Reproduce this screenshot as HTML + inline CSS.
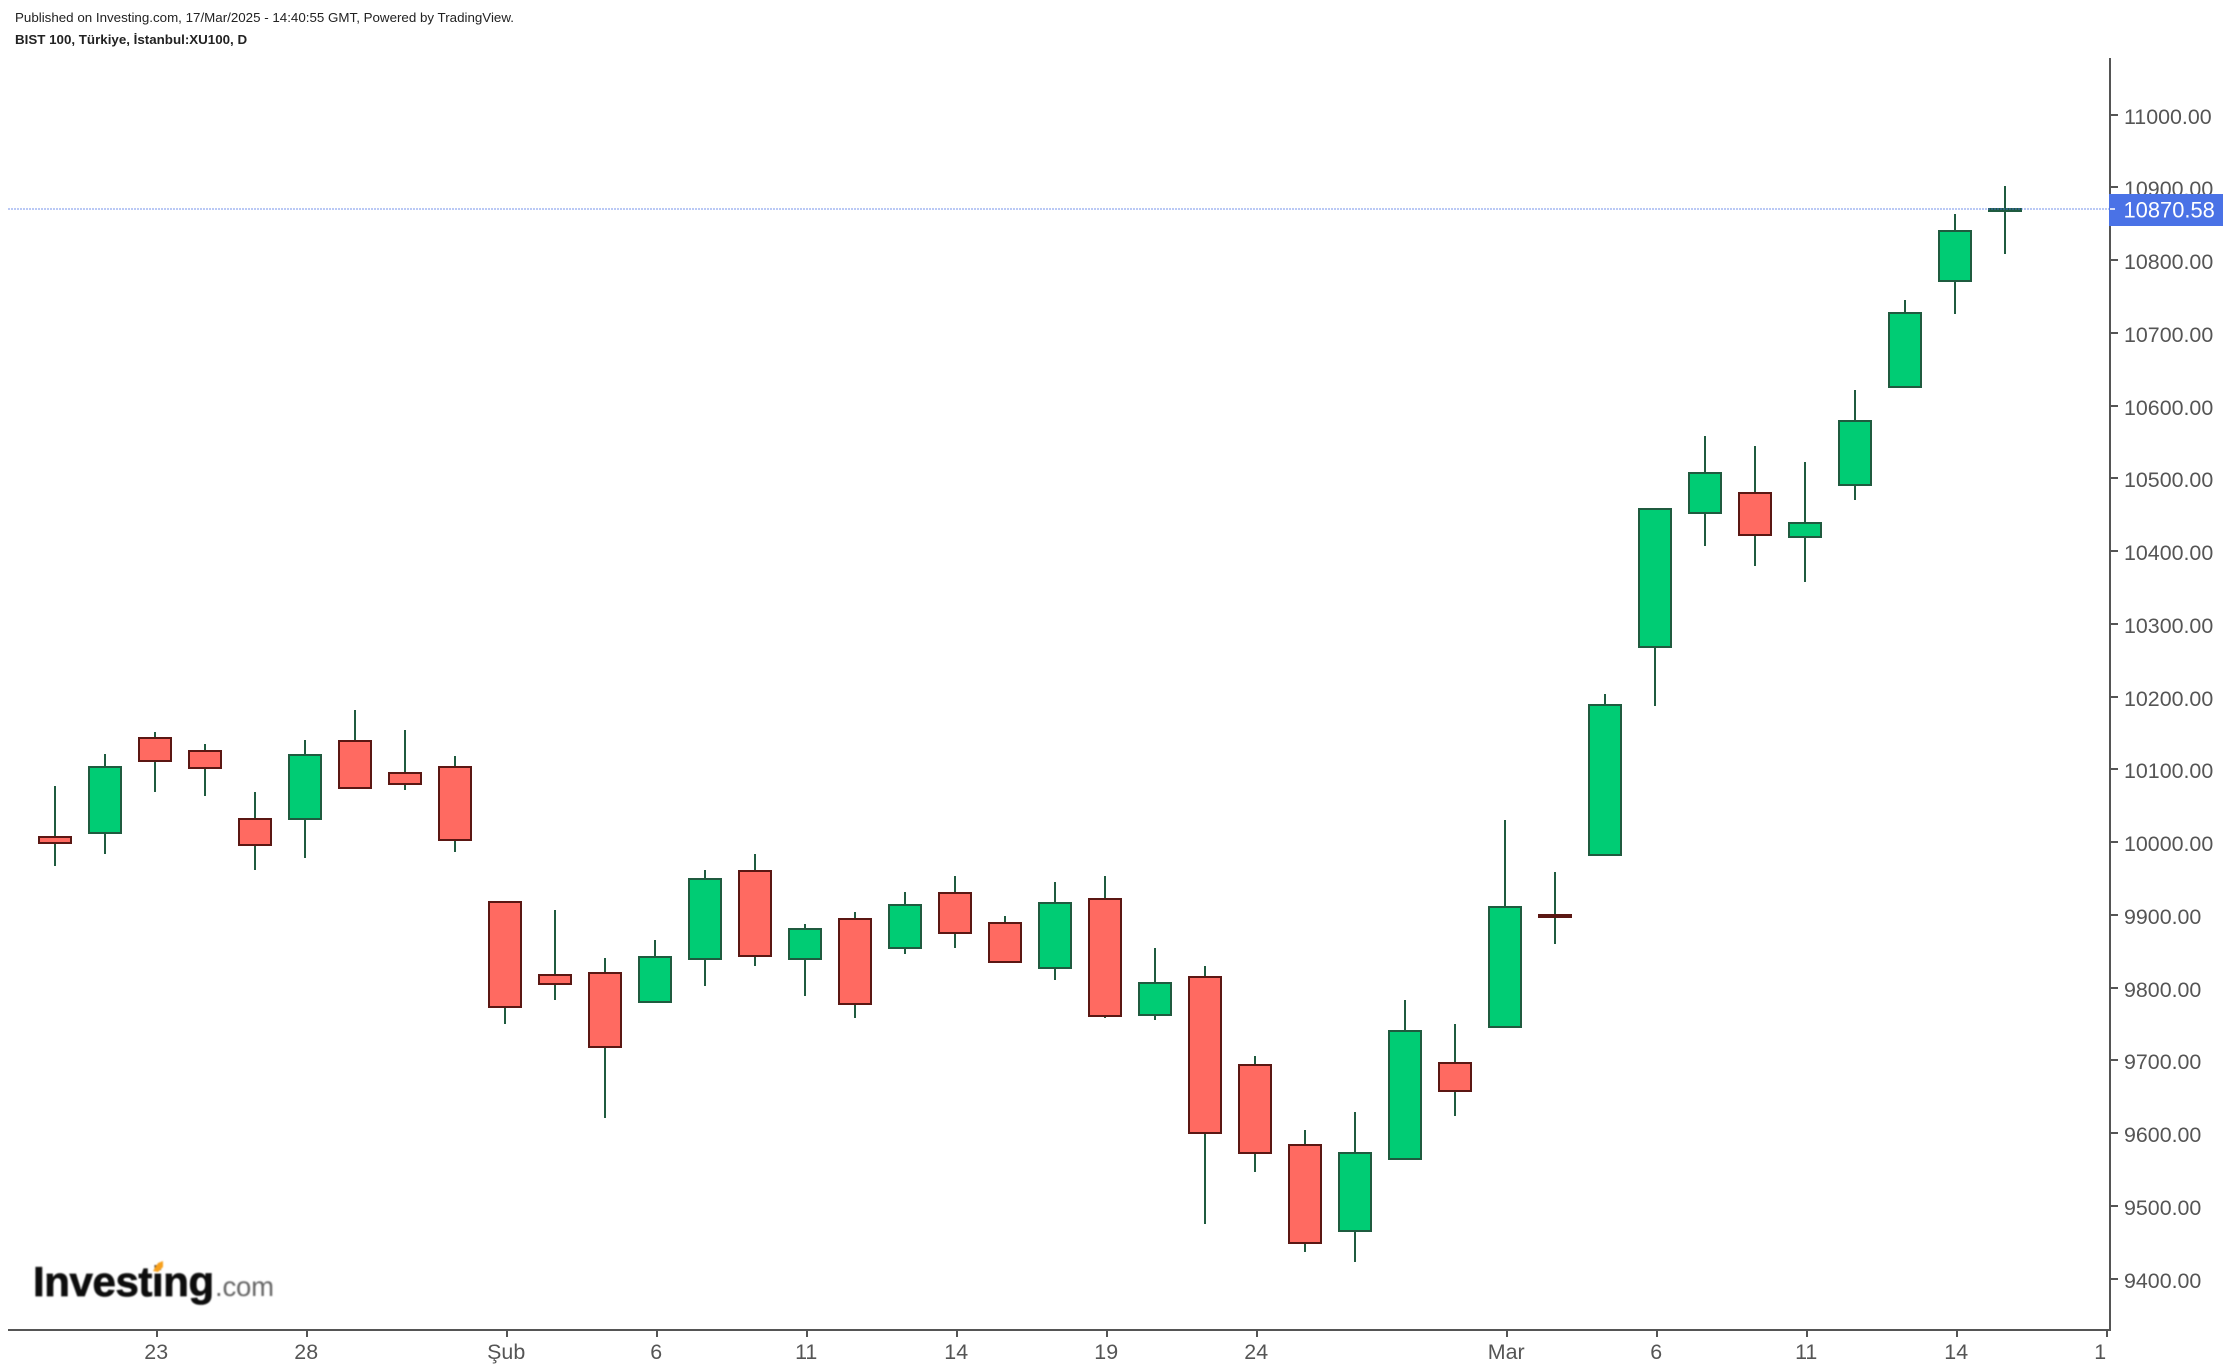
<!DOCTYPE html>
<html lang="tr">
<head>
<meta charset="utf-8">
<title>BIST 100 XU100 Daily Chart</title>
<style>
  html, body { margin: 0; padding: 0; background: #fff; }
  body { width: 2230px; height: 1372px; overflow: hidden; position: relative; }
  svg { position: absolute; left: 0; top: 0; display: block; }
  text { font-family: "Liberation Sans", Arial, sans-serif; }
</style>
</head>
<body>
<svg id="chart" xmlns="http://www.w3.org/2000/svg" width="2230" height="1372" viewBox="0 0 2230 1372">
  <defs>
    <clipPath id="x-label-clip"><rect x="0" y="1331" width="2107" height="41"/></clipPath>
    <filter id="logo-blur" x="-5%" y="-5%" width="110%" height="110%"><feGaussianBlur stdDeviation="0.7"/></filter>
  </defs>
  <text x="15" y="22" font-size="13.35" fill="#222">Published on Investing.com, 17/Mar/2025 - 14:40:55 GMT, Powered by TradingView.</text>
  <text x="15" y="44" font-size="13.35" font-weight="700" fill="#222">BIST 100, Türkiye, İstanbul:XU100, D</text>
  <g id="marks"></g>
  <g id="axes"></g>
  <g filter="url(#logo-blur)">
    <text x="33" y="1296" font-size="42" font-weight="700" letter-spacing="-0.4" fill="#0b0b0b" stroke="#0b0b0b" stroke-width="0.7">Investing</text>
    <text x="215" y="1296" font-size="27.5" letter-spacing="-0.2" fill="#666">.com</text>
    <path d="M153 1271 L158 1263 L163 1261 L163 1267 L158 1272 Z" fill="#f7a01c"/>
  </g>
</svg>
<script>
const opens = [10006.2,10013.6,10141.4,10124.4,10030.9,10032.9,10138.1,10094.2,10102.4,9916,9816.5,9819.2,9782.1,9840.4,9959.4,9840.4,9893.5,9856.4,9929.2,9888,9828.9,9921,9763.2,9813.8,9692.8,9582.8,9466.5,9565.5,9695.5,9747,9899.7,9983.4,10269.3,10453.5,10479,10420.5,10492,10626.7,10772.4,10867.6];
const highs = [10077.3,10121.2,10151.5,10135,10069,10140.5,10181.7,10154.2,10118.5,9916,9906.8,9840.8,9865.6,9961.8,9983.8,9887.6,9904,9931.5,9953.5,9898.5,9945.3,9953.5,9854.6,9829.8,9706.1,9604.4,9629.1,9783.1,9750.1,10030.5,9959,10203.7,10457,10558.4,10544.6,10522.6,10621.6,10745.3,10863.5,10902];
const lows = [9967.7,9984.2,10069.4,10063.9,9962.2,9978.7,10076.3,10072.2,9987,9750.5,9783.5,9621.3,9782.1,9802.8,9830.2,9789,9758.8,9846.7,9855,9837.1,9811,9758.8,9756,9475.6,9547.1,9437.1,9423.4,9565.5,9624,9747,9860.1,9983.4,10187.6,10407.6,10380.1,10358.1,10470.8,10626.7,10726.5,10808.9];
const closes = [9999.9,10102.4,10112.6,10103.8,9997.1,10118.9,10076.3,10081.8,10004.8,9774.4,9806.9,9719.5,9841.2,9948.5,9845.4,9879.7,9779.4,9912.7,9876.1,9837.1,9915.5,9762.9,9805.5,9601.2,9573.7,9450,9571.8,9739.5,9659,9910,9897.4,10187.6,10457,10506.5,10423.2,10437.8,10578,10726.5,10839.2,10870.58];
const xTickLabels = ["23","28","Şub","6","11","14","19","24","Mar","6","11","14","17"];
const xTickIndexes = [2,5,9,12,15,18,21,24,29,32,35,38,41];
const yTickValues = [9400,9500,9600,9700,9800,9900,10000,10100,10200,10300,10400,10500,10600,10700,10800,10900,11000];

const SVG_NS = "http://www.w3.org/2000/svg";
const AXIS_COLOR = "#555555";
const LABEL_COLOR = "#555555";
const WICK_COLOR = "#1f5b3f";
const UP_FILL = "#00cc74";
const UP_BORDER = "#1f5b3f";
const DOWN_FILL = "#ff6a61";
const DOWN_BORDER = "#5b1713";
const PRICE_BLUE = "#4a72e6";

function xScale(i) { return 55 + 50 * i; }
function yScale(v) { return 114.7 + (11000 - v) * 0.7275; }
function make(tag, attrs, parent) {
  const el = document.createElementNS(SVG_NS, tag);
  for (const k in attrs) el.setAttribute(k, attrs[k]);
  parent.appendChild(el);
  return el;
}

const marks = document.getElementById("marks");
const axes = document.getElementById("axes");

opens.forEach(function (open, i) {
  const close = closes[i];
  const up = close >= open;
  const cx = xScale(i);
  const wick = make("rect", {
    x: cx - 1,
    y: Math.round(yScale(highs[i])),
    width: 2,
    height: Math.max(1, Math.round(yScale(lows[i])) - Math.round(yScale(highs[i]))),
    fill: WICK_COLOR,
    "shape-rendering": "crispEdges"
  }, marks);
  
  
  const rawTop = Math.round(yScale(Math.max(open, close)));
  const rawBot = Math.round(yScale(Math.min(open, close)));
  const pad = rawBot - rawTop > 3 ? 1 : 0;
  const topY = rawTop - pad;
  const botY = rawBot + pad;
  const body = make("rect", {
    x: cx - 16,
    y: topY,
    width: 32,
    height: Math.max(1, botY - topY),
    fill: up ? UP_FILL : DOWN_FILL,
    stroke: up ? UP_BORDER : DOWN_BORDER,
    "stroke-width": 2,
    "shape-rendering": "crispEdges"
  }, marks);
  
  
});

const yAxisLine = make("rect", { x: 2109, y: 58, width: 2, height: 1273, fill: AXIS_COLOR }, axes);


const xAxisLine = make("rect", { x: 8, y: 1329, width: 2103, height: 2, fill: AXIS_COLOR }, axes);



yTickValues.forEach(function (v) {
  const y = Math.round(yScale(v));
  const tick = make("rect", { x: 2111, y: y - 1, width: 7, height: 2, fill: AXIS_COLOR }, axes);
  
  
  const label = make("text", { x: 2124, y: y + 9, "font-size": 21.4, fill: LABEL_COLOR }, axes);
  
  
  label.textContent = v.toFixed(2);
});

xTickIndexes.forEach(function (idx, i) {
  const x = xScale(idx) + 1.7;
  const tick = make("rect", { x: Math.round(x) - 1, y: 1331, width: 2, height: 6, fill: AXIS_COLOR }, axes);
  
  
  const label = make("text", { x: x - 0.5, y: 1359, "font-size": 21.4, fill: LABEL_COLOR, "text-anchor": "middle", "clip-path": "url(#x-label-clip)" }, axes);
  
  
  label.textContent = xTickLabels[i];
});

const lastPrice = closes[closes.length - 1];
const lastY = Math.round(yScale(lastPrice));
const priceLine = make("line", { x1: 8, x2: 2115, y1: lastY, y2: lastY, stroke: PRICE_BLUE, "stroke-width": 2, "stroke-opacity": 0.38, "stroke-dasharray": "2 1" }, axes);


const priceBox = make("rect", { x: 2109, y: lastY - 15, width: 114, height: 32, fill: PRICE_BLUE }, axes);


const priceTick = make("rect", { x: 2110, y: lastY - 1, width: 5, height: 2, fill: "#d5ddf8" }, axes);


const priceLabel = make("text", { x: 2123.5, y: lastY + 8.5, "font-size": 21.9, fill: "#ffffff" }, axes);


priceLabel.textContent = lastPrice.toFixed(2);
</script>
</body>
</html>
